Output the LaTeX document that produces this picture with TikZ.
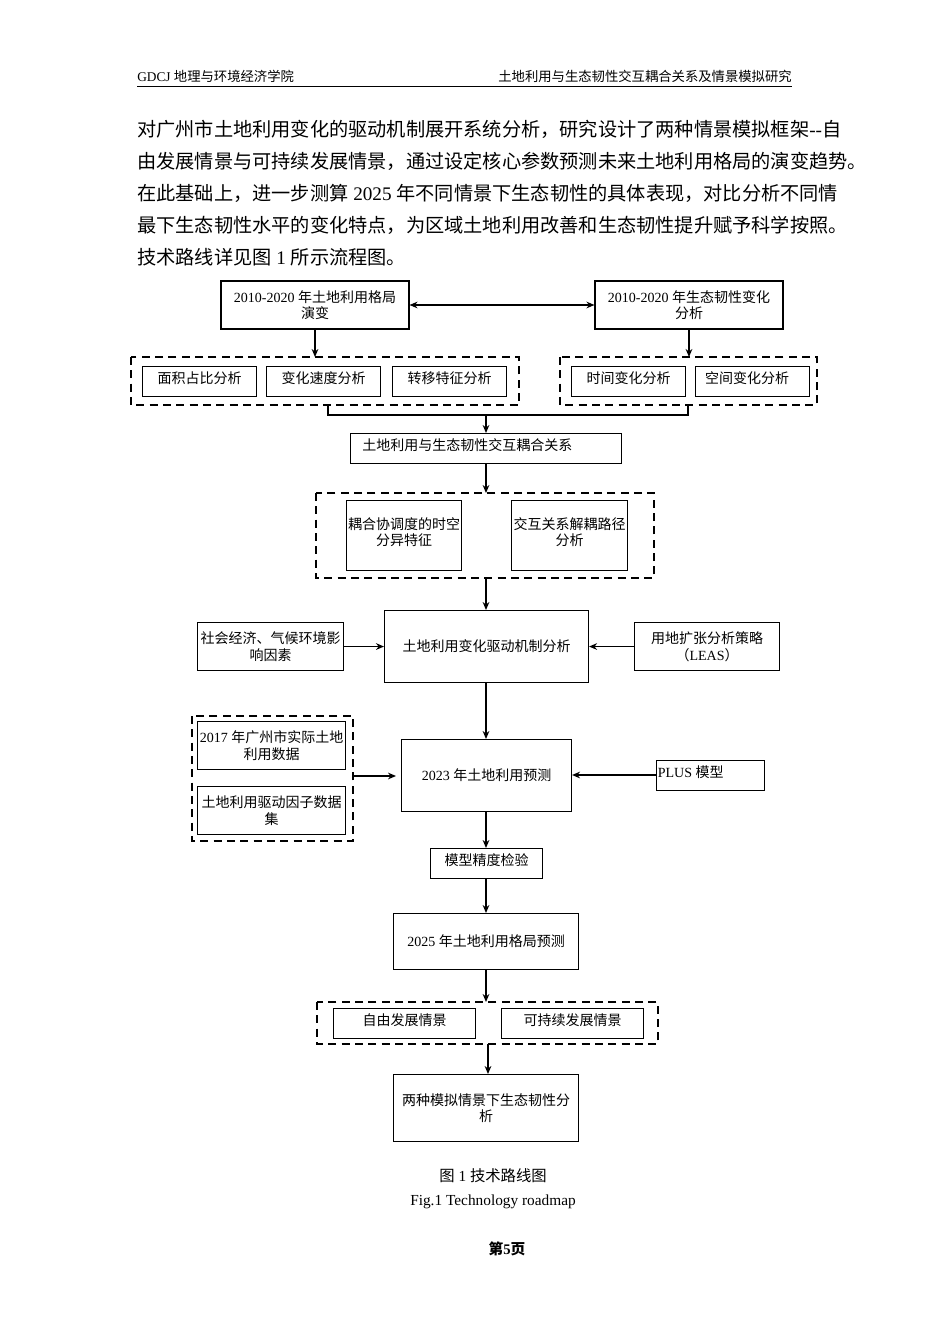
\documentclass[tikz,border=0pt]{standalone}
\usepackage{fontspec}
\setmainfont{Noto Sans CJK SC}
\newfontfamily\lat{Liberation Serif}
\usetikzlibrary{arrows.meta}
\begin{document}
\begin{tikzpicture}[x=0.75pt,y=-0.75pt,
 box/.style={draw,thick,inner sep=1pt,align=center,font=\fontsize{10.5pt}{12.5pt}\selectfont},
 grp/.style={draw,line width=1.3pt,dash pattern=on 6pt off 4pt},
 arr/.style={line width=1pt,-{Stealth[length=6pt,width=5pt]}},
 ln/.style={line width=1pt}]
\useasboundingbox (0,0) rectangle (950,1344);
% header
\node[anchor=base west,font=\fontsize{10pt}{12pt}\selectfont,inner sep=0] (h1) at (137,82) {{\lat GDCJ }地理与环境经济学院};
\node[anchor=base east,font=\fontsize{10pt}{12pt}\selectfont,inner sep=0] (h2) at (792,82) {土地利用与生态韧性交互耦合关系及情景模拟研究};
\draw[thin] (137,86) -- (792,86);
% paragraph
\begin{scope}[every node/.style={anchor=base west,inner sep=0,font=\fontsize{14.4pt}{16pt}\selectfont}]
\node (p1) at (137,137) {对广州市土地利用变化的驱动机制展开系统分析，研究设计了两种情景模拟框架{\lat --}自};
\node (p2) at (137,169) {由发展情景与可持续发展情景，通过设定核心参数预测未来土地利用格局的演变趋势。};
\node (p3) at (137,201) {在此基础上，进一步测算{\lat\ 2025 }年不同情景下生态韧性的具体表现，对比分析不同情};
\node (p4) at (137,233) {最下生态韧性水平的变化特点，为区域土地利用改善和生态韧性提升赋予科学按照。};
\node (p5) at (137,265) {技术路线详见图{\lat\ 1 }所示流程图。};
\end{scope}
% boxes
\node[box,minimum width=188*0.75pt,minimum height=48*0.75pt] (A) at (315,305) {{\lat 2010-2020 }年土地利用格局\\演变};
\node[box,minimum width=188*0.75pt,minimum height=48*0.75pt] (B) at (689,305) {{\lat 2010-2020 }年生态韧性变化\\分析};
\draw[line width=1pt,{Stealth[length=6pt,width=5pt]}-{Stealth[length=6pt,width=5pt]}] (A) -- (B);
\draw[grp] (131,357) rectangle (519,405);
\coordinate (g1b) at (328,405);
\coordinate (g1t) at (315,357);
\node[box,minimum width=114*0.75pt,minimum height=30*0.75pt,anchor=north west] (a1) at (142,366) {\raisebox{6pt}{面积占比分析}};
\node[box,minimum width=114*0.75pt,minimum height=30*0.75pt,anchor=north west] (a2) at (266,366) {\raisebox{6pt}{变化速度分析}};
\node[box,minimum width=114*0.75pt,minimum height=30*0.75pt,anchor=north west] (a3) at (392,366) {\raisebox{6pt}{转移特征分析}};
\draw[grp] (560,357) rectangle (817,405);
\coordinate (g2b) at (688,405);
\coordinate (g2t) at (689,357);
\node[box,minimum width=114*0.75pt,minimum height=30*0.75pt,anchor=north west] (b1) at (571,366) {\raisebox{6pt}{时间变化分析}};
\node[box,minimum width=114*0.75pt,minimum height=30*0.75pt,anchor=north west] (b2) at (695,366) {\raisebox{6pt}{空间变化分析}\hspace{8pt}};
\draw[arr] (A) -- (g1t);
\draw[arr] (B) -- (g2t);
\node[box,minimum width=271*0.75pt,minimum height=30*0.75pt,anchor=north west] (C) at (350,433) {\raisebox{6pt}{土地利用与生态韧性交互耦合关系}\hspace{28pt}};
\coordinate (jn) at (486,415);
\draw[ln] (g1b) -- (328,415) -- (688,415) -- (g2b);
\draw[arr] (jn) -- (C.north-|jn);
\draw[grp] (316,493) rectangle (654,578);
\coordinate (g3t) at (486,493);
\coordinate (g3b) at (486,578);
\draw[arr] (C.south-|g3t) -- (g3t);
\node[box,minimum width=115*0.75pt,minimum height=70*0.75pt,anchor=north west] (c1) at (346,500) {\raisebox{6pt}{\shortstack{耦合协调度的时空\\分异特征}}};
\node[box,minimum width=116*0.75pt,minimum height=70*0.75pt,anchor=north west] (c2) at (511,500) {\raisebox{6pt}{\shortstack{交互关系解耦路径\\分析}}};
\node[box,minimum width=204*0.75pt,minimum height=72*0.75pt,anchor=north west] (D) at (384,610) {土地利用变化驱动机制分析};
\draw[arr] (g3b) -- (D.north-|g3b);
\node[box,minimum width=146*0.75pt,minimum height=48*0.75pt,anchor=north west] (E) at (197,622) {社会经济、气候环境影\\响因素};
\node[box,minimum width=145*0.75pt,minimum height=48*0.75pt,anchor=north west] (F) at (634,622) {用地扩张分析策略\\（{\lat LEAS}）};
\draw[arr] (E.east|-D.west) -- (D.west);
\draw[arr] (F.west|-D.east) -- (D.east);
\node[box,minimum width=170*0.75pt,minimum height=72*0.75pt,anchor=north west] (G) at (401,739) {{\lat 2023 }年土地利用预测};
\draw[arr] (D.south-|486,0) -- (G.north-|486,0);
\draw[grp] (192,716) rectangle (353,841);
\coordinate (g4r) at (353,776);
\node[box,minimum width=148*0.75pt,minimum height=48*0.75pt,anchor=north west] (d1) at (197,721) {{\lat 2017 }年广州市实际土地\\利用数据};
\node[box,minimum width=148*0.75pt,minimum height=48*0.75pt,anchor=north west] (d2) at (197,786) {土地利用驱动因子数据\\集};
\draw[arr] (g4r) -- (396,776);
\node[box,minimum width=101*0.75pt,minimum height=30*0.75pt,anchor=north west] (H) at (656,760) {\raisebox{6pt}{{\lat PLUS }模型}\hspace{30pt}};
\draw[arr] (H.west|-0,775) -- (G.east|-0,775);
\node[box,minimum width=112*0.75pt,minimum height=30*0.75pt,anchor=north west] (I) at (430,848) {\raisebox{6pt}{模型精度检验}};
\draw[arr] (G.south-|486,0) -- (I.north-|486,0);
\node[box,minimum width=185*0.75pt,minimum height=56*0.75pt,anchor=north west] (J) at (393,913) {{\lat 2025 }年土地利用格局预测};
\draw[arr] (I.south-|486,0) -- (J.north-|486,0);
\draw[grp] (317,1002) rectangle (658,1044);
\coordinate (g5t) at (486,1002);
\coordinate (g5b) at (488,1044);
\draw[arr] (J.south-|g5t) -- (g5t);
\node[box,minimum width=142*0.75pt,minimum height=30*0.75pt,anchor=north west] (e1) at (333,1008) {\raisebox{6pt}{自由发展情景}};
\node[box,minimum width=142*0.75pt,minimum height=30*0.75pt,anchor=north west] (e2) at (501,1008) {\raisebox{6pt}{可持续发展情景}};
\node[box,minimum width=185*0.75pt,minimum height=67*0.75pt,anchor=north west] (K) at (393,1074) {两种模拟情景下生态韧性分\\析};
\draw[arr] (g5b) -- (K.north-|g5b);
% caption
\node[font=\fontsize{11.5pt}{13pt}\selectfont] (cap1) at (493,1176) {图{\lat\ 1 }技术路线图};
\node[font=\lat\fontsize{11.5pt}{13pt}\selectfont] (cap2) at (493,1202) {Fig.1 Technology roadmap};
\node[font=\bfseries\fontsize{11pt}{13pt}\selectfont] (pg) at (507,1249) {第{\lat\bfseries 5}页};
\end{tikzpicture}
\end{document}
